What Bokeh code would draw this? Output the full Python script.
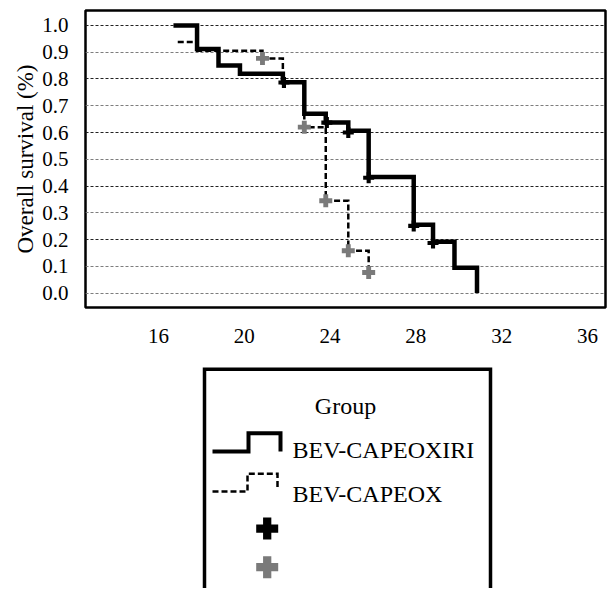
from bokeh.plotting import figure
from bokeh.layouts import column
from bokeh.models import Range1d, FixedTicker, Grid
from bokeh.core.properties import value
from bokeh.embed import file_html
from bokeh.resources import INLINE

# ---------------- data ----------------
# BEV-CAPEOXIRI (solid) step curve
time_a = [16.7, 17.8, 18.8, 19.8, 21.8, 22.8, 23.8, 24.85, 25.8, 27.9, 28.8, 29.8, 30.85]
surv_a = [1.0, 0.912, 0.85, 0.82, 0.788, 0.67, 0.637, 0.607, 0.434, 0.255, 0.192, 0.095, 0.0]
# BEV-CAPEOX (dashed) step curve
time_b = [16.9, 17.8, 20.85, 21.8, 22.8, 23.8, 24.85, 25.8]
surv_b = [0.938, 0.906, 0.877, 0.792, 0.62, 0.345, 0.158, 0.077]
# censoring marks
cens_a_time = [21.85, 23.85, 24.85, 25.8, 27.9, 28.8]
cens_a_surv = [0.787, 0.637, 0.60, 0.431, 0.251, 0.187]
cens_b_time = [20.85, 22.8, 23.8, 24.85, 25.8]
cens_b_surv = [0.877, 0.62, 0.345, 0.158, 0.077]

x_ticks = [16, 20, 24, 28, 32, 36]
y_ticks = [0.0, 0.1, 0.2, 0.3, 0.4, 0.5, 0.6, 0.7, 0.8, 0.9, 1.0]
y_tick_labels = ["0.0", "0.1", "0.2", "0.3", "0.4", "0.5", "0.6", "0.7", "0.8", "0.9", "1.0"]
y_dark_grid = [0.2, 0.4, 0.6, 0.8, 1.0]
y_light_grid = [0.0, 0.1, 0.3, 0.5, 0.7, 0.9]

y_label = "Overall survival (%)"
legend_title = "Group"
series_names = ["BEV-CAPEOXIRI", "BEV-CAPEOX"]

FONT = "Liberation Serif"
GREY = "#7a7a7a"

W = 608
FL, FR = 85, 605          # frame left / right (page px)
PH = 350                  # chart figure height
TOTAL_H = 588

# ---------------- chart ----------------
p = figure(width=W, height=PH, output_backend="svg", toolbar_location=None,
           x_range=Range1d(12.6, 36.84), y_range=Range1d(-0.054, 1.056),
           min_border_left=FL, min_border_right=W - FR, min_border_top=10,
           min_border_bottom=43)
p.background_fill_color = "white"
p.border_fill_color = "white"
p.outline_line_color = "black"
p.outline_line_width = 2.5

p.xgrid.visible = False
p.ygrid.ticker = FixedTicker(ticks=y_dark_grid)
p.ygrid.grid_line_color = "#222222"
p.ygrid.grid_line_width = 1
p.ygrid.grid_line_dash = "3 2"
light = Grid(dimension=1, ticker=FixedTicker(ticks=y_light_grid),
             grid_line_color="#7d7d7d", grid_line_width=1, grid_line_dash="3 2")
p.add_layout(light)

p.xaxis.ticker = FixedTicker(ticks=x_ticks)
p.yaxis.ticker = FixedTicker(ticks=y_ticks)
p.yaxis.major_label_overrides = {t: l for t, l in zip(y_ticks, y_tick_labels)}
for ax in (p.xaxis, p.yaxis):
    ax.axis_line_color = None
    ax.major_tick_line_color = None
    ax.minor_tick_line_color = None
    ax.major_label_text_font = FONT
    ax.major_label_text_font_size = "21px"
    ax.major_label_text_color = "black"
p.xaxis.major_label_standoff = 15
p.yaxis.major_label_standoff = 11
p.yaxis.axis_label = y_label
p.yaxis.axis_label_text_font = FONT
p.yaxis.axis_label_text_font_size = "23px"
p.yaxis.axis_label_text_font_style = "normal"
p.yaxis.axis_label_text_color = "black"
p.yaxis.axis_label_standoff = 1

p.step(time_b, surv_b, mode="after", line_color="black", line_width=2.5,
       line_dash="6 3", line_join="miter")
p.step(time_a, surv_a, mode="after", line_color="black", line_width=4.5,
       line_join="miter")
p.scatter(cens_b_time, cens_b_surv, marker="plus", size=13,
          fill_color=GREY, line_color=None)
p.scatter(cens_a_time, cens_a_surv, marker="plus", size=11,
          fill_color="black", line_color=None)

# ---------------- legend panel (data coordinates = page pixels) ----------------
LH = TOTAL_H - PH
q = figure(width=W, height=LH, output_backend="svg", toolbar_location=None,
           x_range=Range1d(FL, FR), y_range=Range1d(TOTAL_H, PH),
           min_border_left=FL, min_border_right=W - FR, min_border_top=0,
           min_border_bottom=0, x_axis_location=None, y_axis_location=None)
q.grid.visible = False
q.outline_line_color = None
q.background_fill_color = "white"
q.border_fill_color = "white"

box_l, box_r, box_t, box_b = 204, 490, 368.7, TOTAL_H + 40
q.line([box_l, box_l, box_r, box_r], [box_b, box_t, box_t, box_b],
       line_color="black", line_width=3.5, line_join="miter")

q.text([345], [405], text=[legend_title], text_font=value(FONT), text_font_size="24px",
       text_align="center", text_baseline="alphabetic", text_color="black")
q.text([292, 292], [449.3, 493.3], text=series_names, text_font=value(FONT),
       text_font_size="24px", text_align="left", text_baseline="alphabetic",
       text_color="black")

q.line([212, 248, 248, 280, 280], [451, 451, 432.7, 432.7, 451],
       line_color="black", line_width=4, line_join="miter")
q.line([212, 247, 247, 277, 277], [491, 491, 473.3, 473.3, 489],
       line_color="black", line_width=2.5, line_dash="6 3", line_join="miter")
q.scatter([266.7], [528], marker="plus", size=22, fill_color="black", line_color=None)
q.scatter([266.7], [566.7], marker="plus", size=22, fill_color=GREY, line_color=None)

layout = column(p, q)
open("out.html", "w").write(file_html(layout, INLINE))
